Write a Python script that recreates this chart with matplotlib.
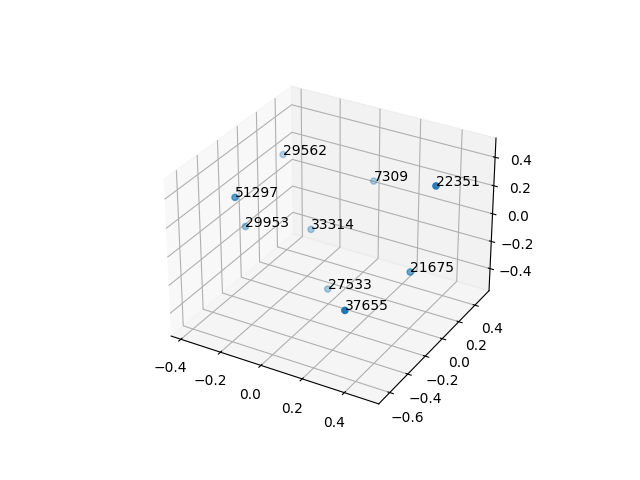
import matplotlib
matplotlib.use('Agg')
import matplotlib.pyplot as plt

labels = ['29562', '7309', '22351', '51297', '29953', '33314', '21675', '27533', '37655']
xs = [-0.365, 0.021, 0.44, -0.353, -0.377, -0.158, 0.351, -0.025, 0.26]
ys = [0.3, 0.466, 0.177, -0.233, -0.087, 0.157, 0.12, 0.049, -0.4]
zs = [0.211, 0.082, 0.365, 0.19, -0.108, -0.174, -0.247, -0.495, -0.251]

fig = plt.figure()
ax = fig.add_subplot(projection='3d')
ax.scatter(xs, ys, zs)
for label, x, y, z in zip(labels, xs, ys, zs):
    ax.text(x, y, z, label)

ax.set_xlim(-0.45, 0.56)
ax.set_ylim(-0.72, 0.58)
ax.set_zlim(-0.565, 0.533)
ax.set_xticks([-0.4, -0.2, 0.0, 0.2, 0.4])
ax.set_yticks([-0.6, -0.4, -0.2, 0.0, 0.2, 0.4])
ax.set_zticks([-0.4, -0.2, 0.0, 0.2, 0.4])

plt.savefig('out.png')
